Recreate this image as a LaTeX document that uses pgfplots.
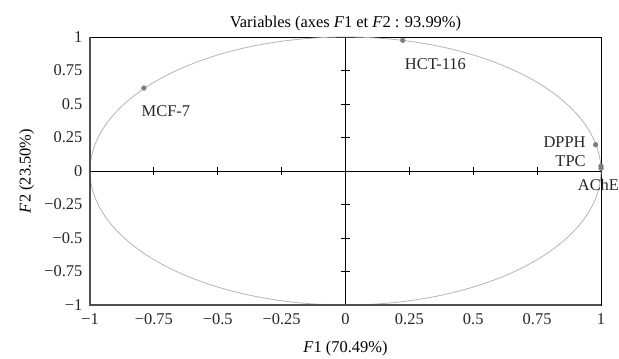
\documentclass[border=0pt]{standalone}
\usepackage{pgfplots}
\pgfplotsset{compat=1.18}
\usepackage{fontspec}
\setmainfont{Liberation Serif}
\definecolor{ptgray}{HTML}{7F7F7F}
\definecolor{circgray}{HTML}{B4B4B4}
\definecolor{framegray}{HTML}{505050}
\newcommand{\fs}{\fontsize{16.5}{19}\selectfont}
\begin{document}
\begin{tikzpicture}[x=1bp,y=1bp]
\fs
\begin{axis}[
  at={(0,0)}, anchor=south west,
  scale only axis, width=511bp, height=268bp,
  xmin=-1, xmax=1, ymin=-1, ymax=1,
  axis line style={black, line width=0.6pt},
  xtick={-1,-0.75,-0.5,-0.25,0,0.25,0.5,0.75,1},
  xticklabels={−1,−0.75,−0.5,−0.25,0,0.25,0.5,0.75,1},
  ytick={-1,-0.75,-0.5,-0.25,0,0.25,0.5,0.75,1},
  yticklabels={−1,−0.75,−0.5,−0.25,0,0.25,0.5,0.75,1},
  major tick length=0pt,
  tick label style={font=\fs, text=black!85},
  xticklabel style={yshift=-3bp},
  yticklabel style={xshift=-2bp},
  title={Variables (axes \textit{F}1 et \textit{F}2 : 93.99\%)},
  title style={font=\fs, yshift=-6bp},
  xlabel={\textit{F}1 (70.49\%)},
  ylabel={\textit{F}2 (23.50\%)},
  label style={font=\fs},
  xlabel style={yshift=-5bp},
  ylabel style={yshift=-1bp},
  clip=false,
]
\addplot[circgray, line width=0.8pt, domain=0:360, samples=240, smooth] ({cos(x)},{sin(x)});
\draw[black, line width=0.8pt] (axis cs:-1,0) -- (axis cs:1,0);
\draw[black, line width=0.8pt] (axis cs:0,-1) -- (axis cs:0,1);
\pgfplotsinvokeforeach{-0.75,-0.5,-0.25,0.25,0.5,0.75}{
  \draw[black, line width=0.8pt] (axis cs:#1,-0.03) -- (axis cs:#1,0.03);
  \draw[black, line width=0.8pt] (axis cs:-0.0157,#1) -- (axis cs:0.0157,#1);
}
\draw[framegray, line width=1.2pt] (axis cs:-1,1) -- (axis cs:-1,-1) -- (axis cs:1,-1);
\addplot[only marks, mark=*, mark size=2.4bp, ptgray, mark options={draw=ptgray, fill=ptgray}] coordinates {
  (-0.789,0.619) (0.224,0.975) (0.979,0.196) (1.0,0.037) (1.0,0.020)
};
\node[text=black!85] at (axis cs:-0.703,0.445) {MCF-7};
\node[text=black!85] at (axis cs:0.352,0.80) {HCT-116};
\node[text=black!85, anchor=east] at (axis cs:0.962,0.215) {DPPH};
\node[text=black!85, anchor=east] at (axis cs:0.962,0.07) {TPC};
\node[text=black!85] at (axis cs:0.99,-0.105) {AChE};
\end{axis}
\pgfresetboundingbox
\path (-90bp,-54bp) rectangle (529bp,305bp);
\end{tikzpicture}
\end{document}
